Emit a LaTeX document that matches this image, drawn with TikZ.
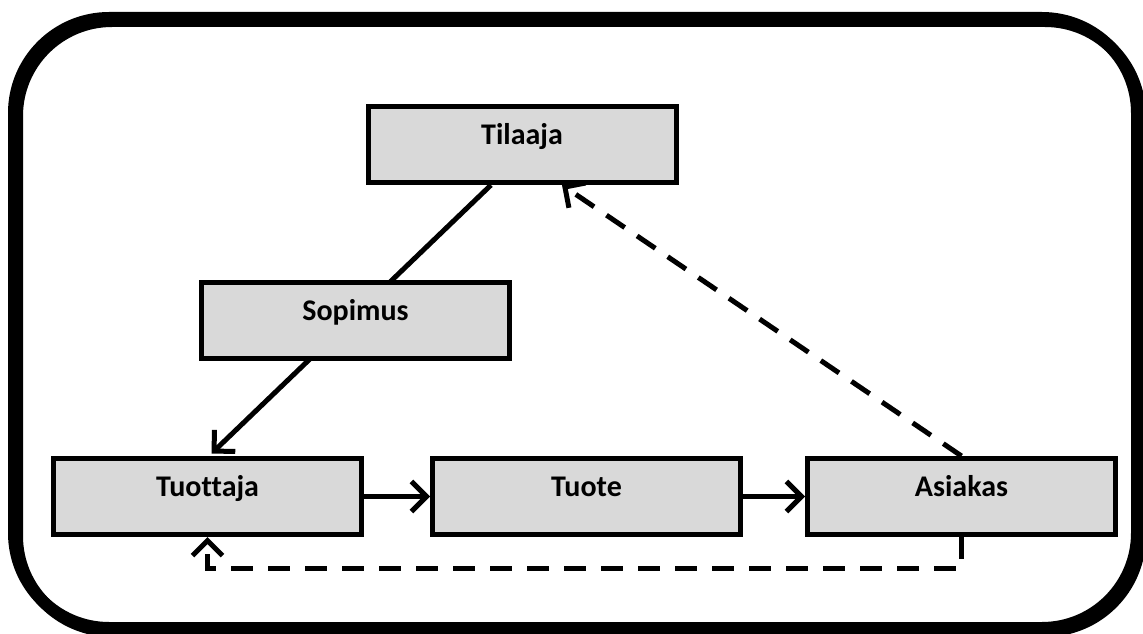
\documentclass[tikz,border=0pt]{standalone}
\usepackage{fontspec}
\setmainfont{Carlito}[Ligatures=NoCommon]
\usetikzlibrary{arrows.meta,backgrounds,positioning}

\definecolor{boxgray}{RGB}{217,217,217}
\tikzset{
  box/.style={draw, line width=5pt, fill=boxgray, minimum width=308pt,
    inner xsep=0pt, inner ysep=0pt, text height=38pt, text depth=38pt,
    font=\fontsize{30}{36}\selectfont\bfseries},
  link/.style={line width=5pt, -{Straight Barb[length=15pt,width=30pt]}},
  backlink/.style={link, dash pattern=on 22pt off 15pt},
}

\begin{document}
\begin{tikzpicture}[x=1pt, y=-1pt]
  \useasboundingbox (0,0) rectangle (1143,634);
  % outer frame
  \draw[line width=12pt, rounded corners=95pt] (17,21) rectangle (1140,631);
  \draw[line width=12pt, rounded corners=95pt] (14,18) rectangle (1137,628);

  \node[box] (tilaaja) at (522,144.5) {Tilaaja};
  \node[box] (sopimus) at (355.5,320.5) {Sopimus};
  \node[box] (tuottaja) at (207.5,496.5) {Tuottaja};
  \node[box] (tuote) [right=66pt of tuottaja] {Tuote};
  \node[box] (asiakas) [right=62pt of tuote] {Asiakas};

  % sopimus sits over the line
  \begin{scope}[on background layer]
    \draw[link] ([xshift=-31pt]tilaaja.south) -- ([xshift=4pt,yshift=2.5pt]tuottaja.north);
  \end{scope}
  \draw[link] (tuottaja) -- (tuote);
  \draw[link] (tuote) -- (asiakas);
  \draw[backlink] (asiakas.north) -- ([xshift=40pt]tilaaja.south);
  \draw[backlink] (asiakas.south) -- ++(0,31) -| (tuottaja.south);
\end{tikzpicture}
\end{document}
